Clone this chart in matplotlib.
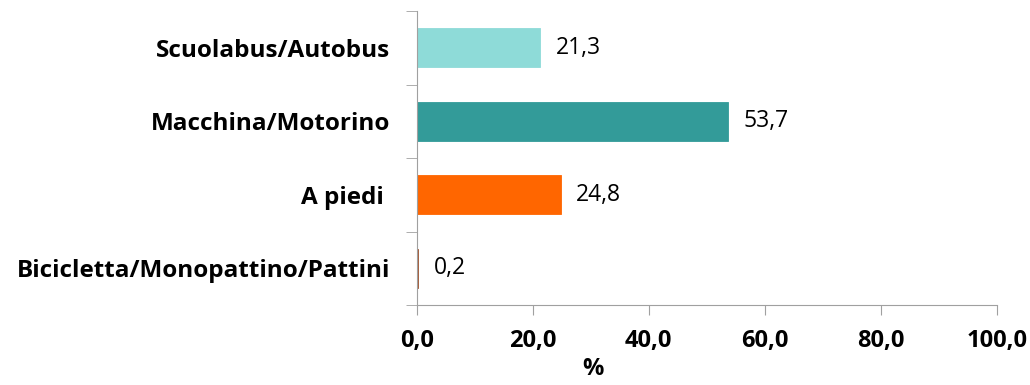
import matplotlib
matplotlib.use("Agg")
import matplotlib.pyplot as plt
from matplotlib.ticker import FixedLocator

categories = ["Bicicletta/Monopattino/Pattini", "A piedi ", "Macchina/Motorino", "Scuolabus/Autobus"]
values = [0.2, 24.8, 53.7, 21.3]
colors = ["#A0522D", "#FF6600", "#339B99", "#8EDBD8"]
xticks = [0, 20, 40, 60, 80, 100]

plt.rcParams["font.family"] = ["Open Sans", "DejaVu Sans"]

fig = plt.figure(figsize=(10.3, 3.85), dpi=100)
ax = fig.add_axes([0.4046, 0.2078, 0.5631, 0.7636])

y = range(len(categories))
ax.barh(y, values, height=0.53, color=colors, edgecolor=colors, linewidth=0.6)
for yi, v in zip(y, values):
    ax.text(v + 2.7, yi, f"{v:.1f}".replace(".", ","), va="center", ha="left", fontsize=16.5)

ax.set_xlim(0, 100)
ax.set_ylim(-0.5, len(categories) - 0.5)
ax.set_xticks(xticks)
ax.set_xticklabels([f"{t:.1f}".replace(".", ",") for t in xticks], fontsize=17, fontweight="bold")
ax.set_yticks(list(y))
ax.set_yticklabels(categories, fontsize=17.5, fontweight="bold")
ax.yaxis.set_minor_locator(FixedLocator([-0.5, 0.5, 1.5, 2.5, 3.5]))
ax.tick_params(axis="y", which="major", length=0, pad=19)
ax.tick_params(axis="y", which="minor", length=8, color="#A0A0A0")
ax.tick_params(axis="x", length=7, color="#A0A0A0", pad=10)
ax.set_xlabel("%", fontsize=17, fontweight="bold")
ax.xaxis.set_label_coords(0.304, -0.178)

for s in ["top", "right"]:
    ax.spines[s].set_visible(False)
for s in ["left", "bottom"]:
    ax.spines[s].set_color("#A0A0A0")

fig.savefig("out.png", dpi=100)
